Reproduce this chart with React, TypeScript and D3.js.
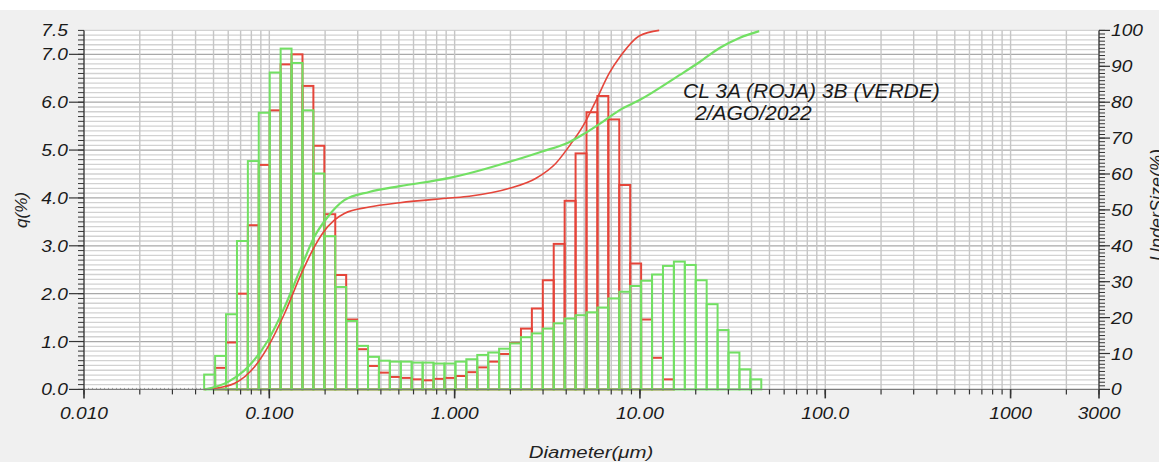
import * as d3 from "d3";

// size classes (µm), bar i spans binEdges[i]..binEdges[i+1]
const binEdges = [
  0.0445, 0.051, 0.0584, 0.0669, 0.0766, 0.0877, 0.1005, 0.1151, 0.1318, 0.151,
  0.1729, 0.1981, 0.2269, 0.2599, 0.2976, 0.3409, 0.3905, 0.4472, 0.5122, 0.5867,
  0.672, 0.7697, 0.8816, 1.0097, 1.1565, 1.3246, 1.5172, 1.7377, 1.9904, 2.2797,
  2.6111, 2.9907, 3.4255, 3.9234, 4.4938, 5.1471, 5.8953, 6.7523, 7.7339, 8.8583,
  10.146, 11.621, 13.31, 15.245, 17.462, 20.0, 22.908, 26.238, 30.052, 34.421,
  39.424, 45.156,
];

// q(%) per class - 3A (roja)
const redQ = [
  0, 0.45, 0.98, 2.0, 3.43, 4.69, 5.83, 6.79, 7.0, 6.34,
  5.09, 3.66, 2.39, 1.46, 0.84, 0.49, 0.35, 0.26, 0.24, 0.21,
  0.19, 0.22, 0.24, 0.28, 0.36, 0.46, 0.58, 0.74, 0.97, 1.27,
  1.69, 2.28, 3.04, 3.94, 4.93, 5.79, 6.13, 5.64, 4.27, 2.63,
  1.46, 0.66, 0.21, 0, 0, 0, 0, 0, 0, 0, 0,
];

// q(%) per class - 3B (verde)
const greenQ = [
  0.31, 0.7, 1.57, 3.1, 4.77, 5.78, 6.62, 7.12, 6.82, 5.83,
  4.51, 3.2, 2.14, 1.43, 0.91, 0.68, 0.6, 0.58, 0.58, 0.56,
  0.56, 0.54, 0.54, 0.58, 0.63, 0.72, 0.77, 0.85, 0.96, 1.09,
  1.17, 1.27, 1.38, 1.48, 1.55, 1.61, 1.71, 1.9, 2.04, 2.16,
  2.27, 2.4, 2.58, 2.67, 2.6, 2.28, 1.78, 1.24, 0.77, 0.42, 0.21,
];

// undersize curves (diameter µm, %)
const redCumD = [0.0445, 0.0508, 0.0651, 0.0833, 0.0985, 0.121, 0.149, 0.175, 0.194, 0.225, 0.254, 0.346, 0.506, 0.94, 1.2, 1.98, 2.75, 3.52, 4.2, 4.96, 5.81, 6.83, 7.77, 9.95, 12.7];
const redCumP = [0, 0.3, 1.7, 6.3, 11.9, 21.2, 32.3, 39.7, 43.5, 47.2, 49.0, 50.8, 52.0, 53.3, 53.8, 56.0, 58.8, 63.0, 68.1, 73.6, 80.6, 88.1, 92.5, 98.5, 100];
const greenCumD = [0.0449, 0.0599, 0.0769, 0.0985, 0.121, 0.149, 0.175, 0.207, 0.254, 0.346, 0.506, 0.94, 1.2, 1.98, 2.94, 4.2, 4.96, 6.32, 7.77, 9.95, 16.4, 21.0, 26.9, 34.4, 44.0];
const greenCumP = [0, 2.1, 6.3, 13.7, 23, 34.2, 42.5, 48.1, 52.7, 55.0, 56.6, 58.9, 60.2, 63.4, 66.2, 69, 71.1, 74.6, 77.8, 80.6, 87.6, 91.2, 95.1, 97.9, 99.8];

const xTickValues = [0.01, 0.1, 1, 10, 100, 1000, 3000];
const xTickLabels = ["0.010", "0.100", "1.000", "10.00", "100.0", "1000", "3000"];
const qTickValues = [0, 1, 2, 3, 4, 5, 6, 7, 7.5];
const qTickLabels = ["0.0", "1.0", "2.0", "3.0", "4.0", "5.0", "6.0", "7.0", "7.5"];
const underTickValues = [0, 10, 20, 30, 40, 50, 60, 70, 80, 90, 100];

const W = 1159;
const H = 462;
const left = 84;
const right = 1099;
const top = 30.4;
const bottom = 389.4;

const RED = "#e5453a";
const GREEN = "#72e063";
const FONT = "'Liberation Sans', Arial, sans-serif";

export default function App() {
  const x = d3.scaleLog().domain([0.01, 3000]).range([left, right]);
  const y = d3.scaleLinear().domain([0, 7.5]).range([bottom, top]);
  const yR = d3.scaleLinear().domain([0, 100]).range([bottom, top]);

  const line = d3
    .line<[number, number]>()
    .x((d) => x(d[0]))
    .y((d) => yR(d[1]))
    .curve(d3.curveMonotoneX);

  const redPts = redCumD.map((d, i) => [d, redCumP[i]] as [number, number]);
  const greenPts = greenCumD.map((d, i) => [d, greenCumP[i]] as [number, number]);

  const bars = (vals: number[], color: string) =>
    vals.map((v, i) =>
      v > 0 ? (
        <rect
          key={i}
          x={x(binEdges[i])}
          y={y(v)}
          width={x(binEdges[i + 1]) - x(binEdges[i])}
          height={y(0) - y(v)}
          fill="none"
          stroke={color}
          strokeWidth={2}
        />
      ) : null
    );

  const tickLabel = (tx: number, ty: number, s: string, anchor: string) => (
    <text
      key={s + tx + ty}
      transform={`translate(${tx},${ty}) scale(1.2,1)`}
      textAnchor={anchor}
      fontSize={16}
      fontStyle="italic"
      fill="#1a1a1a"
    >
      {s}
    </text>
  );

  return (
    <svg
      width={W}
      height={H}
      style={{ position: "absolute", left: 0, top: 0, fontFamily: FONT }}
    >
      <rect width={W} height={H} fill="#f0f0f0" />
      <rect width={W} height={10} fill="#ffffff" />
      <rect x={left} y={top} width={right - left} height={bottom - top} fill="#ffffff" />

      {/* horizontal grid */}
      {y.ticks(75).map((t) => (
        <line
          key={"h" + t}
          x1={left}
          x2={right}
          y1={y(t)}
          y2={y(t)}
          stroke={Math.abs(t - Math.round(t)) < 1e-6 ? "#a9a9a9" : "#d2d2d2"}
          strokeWidth={1.3}
        />
      ))}
      {/* vertical grid */}
      {x.ticks().map((t) => (
        <line key={"v" + t} x1={x(t)} x2={x(t)} y1={top} y2={bottom} stroke="#c6c6c6" strokeWidth={1.4} />
      ))}

      {/* dotted baseline before the first class */}
      <line x1={left} x2={x(binEdges[0])} y1={bottom - 1} y2={bottom - 1} stroke="#9a9a9a" strokeDasharray="1,3" />

      {bars(redQ, RED)}
      {bars(greenQ, GREEN)}

      <path d={line(redPts) ?? ""} fill="none" stroke={RED} strokeWidth={1.6} />
      <path d={line(greenPts) ?? ""} fill="none" stroke={GREEN} strokeWidth={2.2} />

      {/* axes */}
      <line x1={left} x2={left} y1={top} y2={bottom} stroke="#333" strokeWidth={1.2} />
      <line x1={right} x2={right} y1={top} y2={bottom} stroke="#333" strokeWidth={1.2} />
      <line x1={left} x2={right} y1={bottom} y2={bottom} stroke="#777" strokeWidth={1} />

      {y.ticks(75).map((t) => (
        <line key={"lt" + t} x1={left - 6} x2={left} y1={y(t)} y2={y(t)} stroke="#333" strokeWidth={1} />
      ))}
      {qTickValues.slice(0, 8).map((t) => (
        <line key={"lM" + t} x1={left - 15} x2={left} y1={y(t)} y2={y(t)} stroke="#333" strokeWidth={1.2} />
      ))}
      {qTickValues.map((t, i) => tickLabel(left - 16, y(t) + 6, qTickLabels[i], "end"))}

      {yR.ticks(100).map((t) => (
        <line key={"rt" + t} x1={right} x2={right + 6} y1={yR(t)} y2={yR(t)} stroke="#333" strokeWidth={1} />
      ))}
      {underTickValues.map((t) => (
        <line key={"rM" + t} x1={right} x2={right + 11} y1={yR(t)} y2={yR(t)} stroke="#333" strokeWidth={1.2} />
      ))}
      {underTickValues.map((t) => tickLabel(right + 12, yR(t) + 6, String(t), "start"))}

      {x.ticks().map((t) => (
        <line key={"xt" + t} x1={x(t)} x2={x(t)} y1={bottom} y2={bottom + 5} stroke="#333" strokeWidth={1.2} />
      ))}
      {xTickValues.map((t) => (
        <line key={"xM" + t} x1={x(t)} x2={x(t)} y1={bottom} y2={bottom + 9} stroke="#333" strokeWidth={1.6} />
      ))}
      {xTickValues.map((t, i) => tickLabel(x(t), 419, xTickLabels[i], "middle"))}

      {/* titles */}
      <text transform="translate(27,210) rotate(-90)" textAnchor="middle" fontSize={17} fontStyle="italic" fill="#222">
        q(%)
      </text>
      <text transform="translate(1163,205) rotate(-90)" textAnchor="middle" fontSize={18} fontStyle="italic" fill="#222">
        UnderSize(%)
      </text>
      <text transform="translate(591,458) scale(1.2,1)" textAnchor="middle" fontSize={17} fontStyle="italic" fill="#222">
        Diameter(μm)
      </text>

      <text x={683} y={98} fontSize={21} fontStyle="italic" fill="#1a1a1a">
        CL 3A (ROJA) 3B (VERDE)
      </text>
      <text x={695} y={120} fontSize={21} fontStyle="italic" fill="#1a1a1a">
        2/AGO/2022
      </text>
    </svg>
  );
}
